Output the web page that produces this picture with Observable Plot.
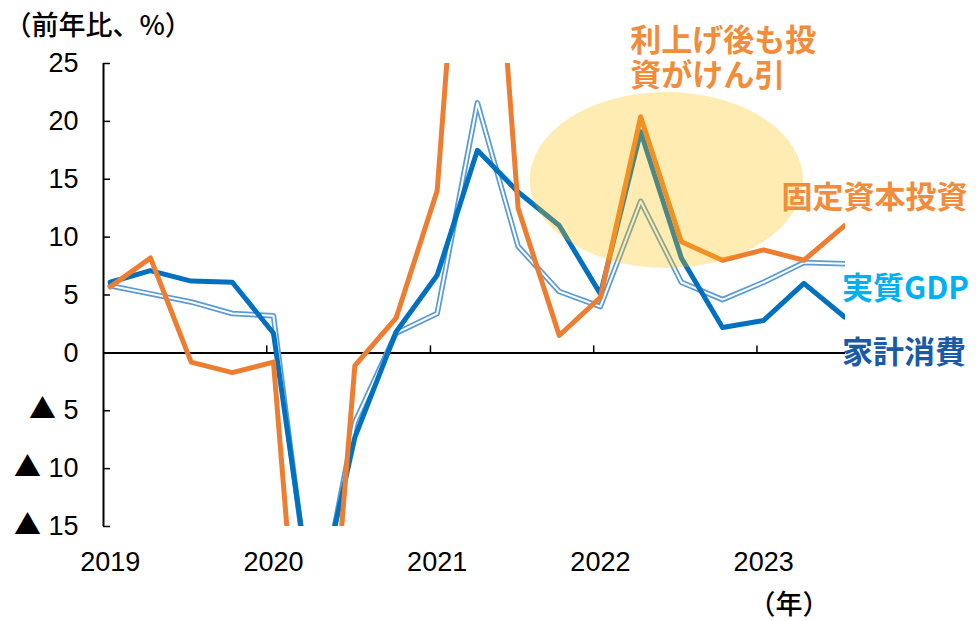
<!DOCTYPE html>
<html><head><meta charset="utf-8">
<script src="https://cdn.jsdelivr.net/npm/d3@7"></script>
<script src="https://cdn.jsdelivr.net/npm/@observablehq/plot@0.6"></script>
<style>
@font-face { font-family: "TriMark"; src: local("Noto Sans CJK JP"), local("Noto Sans CJK JP Regular"), local("NotoSansCJKjp-Regular"), local("Noto Sans CJK SC"), local("NotoSansCJKsc-Regular"), local("DejaVu Sans"); unicode-range: U+25B2; }
html,body{margin:0;padding:0;background:#fff;} #chart{width:976px;height:621px;overflow:hidden}
</style>
</head><body><div id="chart"></div>
<script>
// ---- data (year-on-year, %) ----
const quarters = ["2019Q1","2019Q2","2019Q3","2019Q4","2020Q1","2020Q2","2020Q3","2020Q4",
  "2021Q1","2021Q2","2021Q3","2021Q4","2022Q1","2022Q2","2022Q3","2022Q4","2023Q1","2023Q2","2023Q3"];
const realGDP = [5.8, 5.1, 4.4, 3.4, 3.2, -24.0, -6.0, 1.7, 3.4, 21.6, 9.2, 5.3, 4.0, 13.1, 6.1, 4.6, 6.1, 7.8, 7.7];
const householdConsumption = [6.1, 7.1, 6.2, 6.1, 1.7, -23.0, -7.3, 1.8, 6.7, 17.5, 13.9, 11.0, 5.1, 19.1, 8.2, 2.2, 2.8, 6.0, 3.1];
const fixedInvestment = [5.7, 8.2, -0.8, -1.7, -0.8, -44.0, -1.1, 3.0, 14.0, 60.0, 12.5, 1.5, 4.8, 20.4, 9.6, 8.0, 8.9, 8.0, 11.0];
const yTicks = [-15, -10, -5, 0, 5, 10, 15, 20, 25];
const yearTicks = [2020, 2021, 2022, 2023];
const yearLabels = [2019, 2020, 2021, 2022, 2023];

// ---- helpers ----
const utc = (y, m, d) => new Date(Date.UTC(y, m, d));
const quarterDate = q => { const [y, n] = q.split("Q").map(Number); return utc(y, (n - 1) * 3, 16); };
const rows = quarters.map((q, i) => ({date: quarterDate(q), gdp: realGDP[i], cons: householdConsumption[i], inv: fixedInvestment[i]}));
const xStart = utc(2019, 0, 1), xEnd = utc(2023, 6, 18);
const yearTickDates = yearTicks.map(y => utc(y, 0, 1));
const yearLabelDates = yearLabels.map(y => utc(y, 0, 16));
const fmtY = d => d < 0 ? `▲ ${-d}` : `${d}`;

// ---- annotations ----
const highlight = {x1: utc(2021, 7, 12), x2: utc(2023, 3, 15), y1: 7.3, y2: 22.5};
const labels = [
  {text: "利上げ後も投", date: utc(2022, 2, 24), value: 26.9, color: "#F08C3A"},
  {text: "資がけん引", date: utc(2022, 2, 24), value: 23.9, color: "#F08C3A"},
  {text: "固定資本投資", date: utc(2023, 1, 25), value: 13.4, color: "#F08C3A"},
  {text: "実質GDP", date: utc(2023, 6, 10), value: 5.5, color: "#00B0F0"},
  {text: "家計消費", date: utc(2023, 6, 10), value: 0, color: "#1B5AA6"}
];

const ellipseMark = (index, scales) => {
  const ns = "http://www.w3.org/2000/svg";
  const x1 = scales.x(highlight.x1), x2 = scales.x(highlight.x2);
  const y1 = scales.y(highlight.y1), y2 = scales.y(highlight.y2);
  const el = document.createElementNS(ns, "ellipse");
  el.setAttribute("cx", (x1 + x2) / 2);
  el.setAttribute("cy", (y1 + y2) / 2);
  el.setAttribute("rx", Math.abs(x2 - x1) / 2);
  el.setAttribute("ry", Math.abs(y1 - y2) / 2);
  el.setAttribute("fill", "#FFC000");
  el.setAttribute("fill-opacity", "0.3");
  return el;
};

const cjk = "'Noto Sans CJK JP', 'Noto Sans CJK SC', sans-serif";

const chart = Plot.plot({
  width: 976, height: 621,
  marginLeft: 103, marginRight: 131, marginTop: 63, marginBottom: 95,
  x: {type: "utc", domain: [xStart, xEnd], axis: null},
  y: {domain: [-15, 25], axis: null},
  style: {fontFamily: "TriMark, 'Liberation Sans', Arial, 'Noto Sans CJK JP', sans-serif", fontSize: "27px", color: "black", background: "white", overflow: "visible"},
  marks: [
    Plot.ruleY([0], {stroke: "black", strokeWidth: 2}),
    Plot.ruleX([xStart], {stroke: "black", strokeWidth: 2}),
    Plot.ruleY(yTicks, {y: d => d, x1: xStart, x2: xStart, insetRight: -7, stroke: "black", strokeWidth: 1.5}),
    Plot.ruleX(yearTickDates, {x: d => d, y1: 0, y2: 0, insetTop: -7, stroke: "black", strokeWidth: 1.5}),
    Plot.axisY({ticks: yTicks, tickSize: 0, tickPadding: 25, tickFormat: fmtY, fontSize: 27, label: null}),
    Plot.axisX({ticks: yearLabelDates, tickSize: 0, tickPadding: 25, tickFormat: d => String(d.getUTCFullYear()), fontSize: 27, label: null}),
    // real GDP: double (outlined) line
    Plot.lineY(rows, {x: "date", y: "gdp", stroke: "#5B9BD5", strokeWidth: 5.5, clip: true}),
    Plot.lineY(rows, {x: "date", y: "gdp", stroke: "white", strokeWidth: 2, clip: true}),
    Plot.lineY(rows, {x: "date", y: "cons", stroke: "#0070C0", strokeWidth: 5, clip: true}),
    Plot.lineY(rows, {x: "date", y: "inv", stroke: "#ED7D31", strokeWidth: 5, clip: true}),
    ellipseMark,
    Plot.text(labels, {x: "date", y: "value", text: "text", fill: "color", textAnchor: "start", lineAnchor: "middle",
      fontFamily: cjk, fontWeight: "bold", fontSize: 31}),
    Plot.text(["（前年比、%）"], {frameAnchor: "top-left", dx: -99, dy: -37, textAnchor: "start", lineAnchor: "middle", fontFamily: cjk, fontWeight: 500, fontSize: 27}),
    Plot.text(["（年）"], {frameAnchor: "bottom-left", dx: 645, dy: 79, textAnchor: "start", lineAnchor: "middle", fontFamily: cjk, fontWeight: 500, fontSize: 27})
  ]
});
document.getElementById("chart").append(chart);
</script>
</body></html>
